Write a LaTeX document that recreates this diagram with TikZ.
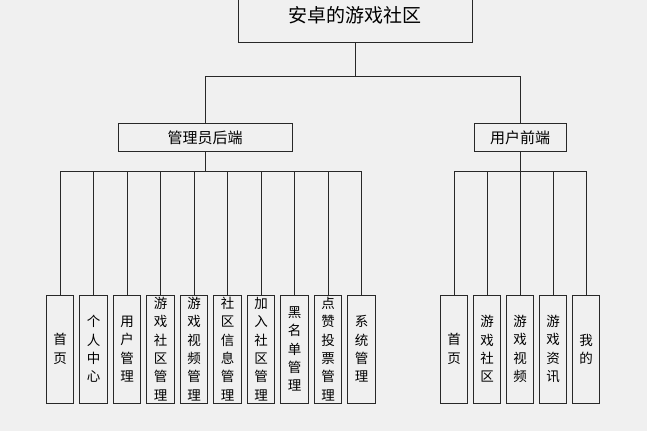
\documentclass[tikz,border=0pt]{standalone}
\usepackage{fontspec}
\newfontfamily\cjk{Noto Sans CJK SC}
\usetikzlibrary{positioning}
\definecolor{bg}{RGB}{240,240,240}
\definecolor{ln}{RGB}{40,40,40}

\begin{document}
\begin{tikzpicture}[x=1pt, y=-1pt,
  box/.style={draw=ln, line width=0.9pt, inner sep=0pt, align=center},
  leaf/.style={box, minimum width=27.5pt, minimum height=108pt,
    font=\cjk\fontsize{13.5pt}{18.3pt}\selectfont},
  mid/.style={box, minimum height=28pt, font=\cjk\fontsize{15pt}{18pt}\selectfont},
  link/.style={draw=ln, line width=0.9pt}
]
  \fill[bg] (0,0) rectangle (647,431);
  \useasboundingbox (0,0) rectangle (647,431);

  \node[box, minimum width=234pt, minimum height=54pt,
    font=\cjk\fontsize{19pt}{22pt}\selectfont] (root) at (355,15.7) {安卓的游戏社区};
  \node[mid, minimum width=174pt] (admin) at (205,137.5) {管理员后端};
  \node[mid, minimum width=92pt] (user) at (520,137.5) {用户前端};

  % admin side
  \node[leaf] (home) at (60,349) {首\\页};
  \node[leaf, right=5.1pt of home] (center) {个\\人\\中\\心};
  \node[leaf, right=5.1pt of center] (users) {用\\户\\管\\理};
  \node[leaf, right=5.1pt of users] (comm) {游\\戏\\社\\区\\管\\理};
  \node[leaf, right=5.1pt of comm] (video) {游\\戏\\视\\频\\管\\理};
  \node[leaf, right=5.1pt of video] (info) {社\\区\\信\\息\\管\\理};
  \node[leaf, right=5.1pt of info] (join) {加\\入\\社\\区\\管\\理};
  \node[leaf, right=5.1pt of join] (black) {黑\\名\\单\\管\\理};
  \node[leaf, right=5.1pt of black] (vote) {点\\赞\\投\\票\\管\\理};
  \node[leaf, right=5.1pt of vote] (sys) {系\\统\\管\\理};

  % user side
  \node[leaf] (uhome) at (454,349) {首\\页};
  \node[leaf, right=4.6pt of uhome] (ucomm) {游\\戏\\社\\区};
  \node[leaf, right=4.6pt of ucomm] (uvideo) {游\\戏\\视\\频};
  \node[leaf, right=4.6pt of uvideo] (unews) {游\\戏\\资\\讯};
  \node[leaf, right=4.6pt of unews] (mine) {我\\的};

  \coordinate (split) at (355,76);
  \coordinate (abus) at (205,171.5);
  \coordinate (ubus) at (520,171);

  \draw[link] (root) -- (split) -| (admin);
  \draw[link] (split) -| (user);
  \draw[link] (admin) -- (abus);
  \draw[link] (abus) -| (home) (abus) -| (center) (abus) -| (users)
    (abus) -| (comm) (abus) -| (video) (abus) -| (info) (abus) -| (join)
    (abus) -| (black) (abus) -| (vote) (abus) -| (sys);
  \draw[link] (user) -- (ubus);
  \draw[link] (ubus) -| (uhome) (ubus) -| (ucomm) (ubus) -| (uvideo)
    (ubus) -| (unews) (ubus) -| (mine);
\end{tikzpicture}
\end{document}
